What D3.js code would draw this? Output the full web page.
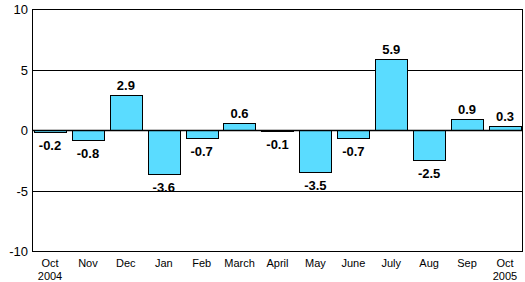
<!DOCTYPE html>
<html>
<head>
<meta charset="utf-8">
<script src="https://cdn.jsdelivr.net/npm/d3@7"></script>
<style>
  body { margin: 0; background: #fff; }
  text { font-family: "Liberation Sans", Arial, sans-serif; }
</style>
</head>
<body>
<svg id="chart"></svg>
<script>
const months = ["Oct", "Nov", "Dec", "Jan", "Feb", "March", "April", "May", "June", "July", "Aug", "Sep", "Oct"];
const years = ["2004", "", "", "", "", "", "", "", "", "", "", "", "2005"];
const values = [-0.2, -0.8, 2.9, -3.6, -0.7, 0.6, -0.1, -3.5, -0.7, 5.9, -2.5, 0.9, 0.3];
const yTicks = [-10, -5, 0, 5, 10];

const width = 525;
const height = 282;
const margin = { top: 9, right: 2, bottom: 31, left: 32 };

const svg = d3.select("#chart")
  .attr("width", width)
  .attr("height", height);

const x = d3.scaleBand()
  .domain(d3.range(values.length))
  .range([margin.left, width - margin.right])
  .paddingInner(0.15)
  .paddingOuter(0.05);

const y = d3.scaleLinear()
  .domain([-10, 10])
  .range([height - margin.bottom, margin.top]);

// gridlines
svg.append("g")
  .selectAll("line")
  .data(yTicks)
  .enter()
  .append("line")
  .attr("x1", margin.left)
  .attr("x2", width - margin.right)
  .attr("y1", d => Math.round(y(d)) + 0.5)
  .attr("y2", d => Math.round(y(d)) + 0.5)
  .attr("stroke", "#000")
  .attr("stroke-width", 1);

// y labels
svg.append("g")
  .selectAll("text")
  .data(yTicks)
  .enter()
  .append("text")
  .attr("x", margin.left - 4)
  .attr("y", d => y(d) + 5)
  .attr("text-anchor", "end")
  .attr("font-size", 13)
  .text(d => d);

// bars
svg.append("g")
  .selectAll("rect")
  .data(values)
  .enter()
  .append("rect")
  .attr("x", (d, i) => Math.round(x(i)) + 0.5)
  .attr("y", d => Math.round(y(Math.max(0, d))) + 0.5)
  .attr("width", Math.round(x.bandwidth()))
  .attr("height", d => Math.max(1, Math.round(Math.abs(y(d) - y(0)))))
  .attr("fill", "#5adcff")
  .attr("stroke", "#000")
  .attr("stroke-width", 1);

// zero line
svg.append("line")
  .attr("x1", margin.left)
  .attr("x2", width - margin.right)
  .attr("y1", y(0) + 0.5)
  .attr("y2", y(0) + 0.5)
  .attr("stroke", "#000")
  .attr("stroke-width", 1.5);

// value labels
svg.append("g")
  .selectAll("text")
  .data(values)
  .enter()
  .append("text")
  .attr("x", (d, i) => x(i) + x.bandwidth() / 2)
  .attr("y", d => d >= 0 ? y(d) - 5 : y(d) + 18)
  .attr("text-anchor", "middle")
  .attr("font-size", 13)
  .attr("font-weight", "bold")
  .text(d => d);

// plot border
svg.append("rect")
  .attr("x", margin.left + 0.5)
  .attr("y", margin.top + 0.5)
  .attr("width", width - margin.left - margin.right - 1)
  .attr("height", height - margin.top - margin.bottom)
  .attr("fill", "none")
  .attr("stroke", "#000")
  .attr("stroke-width", 1);

// x labels
const xl = svg.append("g")
  .selectAll("text")
  .data(months)
  .enter()
  .append("text")
  .attr("x", (d, i) => x(i) + x.bandwidth() / 2)
  .attr("y", height - margin.bottom + 16)
  .attr("text-anchor", "middle")
  .attr("font-size", 11);

xl.append("tspan").text(d => d);
xl.append("tspan")
  .attr("x", (d, i) => x(i) + x.bandwidth() / 2)
  .attr("dy", 13)
  .text((d, i) => years[i]);
</script>
</body>
</html>
